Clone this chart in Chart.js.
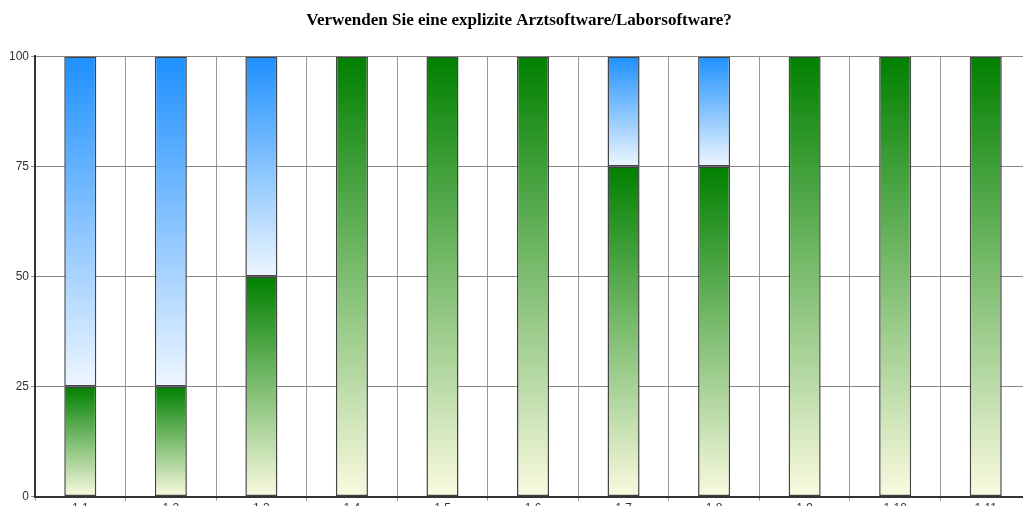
<!DOCTYPE html>
<html>
<head>
<meta charset="utf-8">
<script src="https://cdn.jsdelivr.net/npm/chart.js@4/dist/chart.umd.min.js"></script>
<style>
  html, body { margin: 0; padding: 0; background: #fff; overflow: hidden; }
  #wrap { width: 1023px; height: 506px; overflow: hidden; }
</style>
</head>
<body>
<div id="wrap"><canvas id="chartArzt" width="1031" height="517"></canvas></div>
<script>
// Umfrage: Verwenden Sie eine explizite Arztsoftware/Laborsoftware?
var kategorien = ['1.1', '1.2', '1.3', '1.4', '1.5', '1.6', '1.7', '1.8', '1.9', '1.10', '1.11'];
var werteGruen = [25, 25, 50, 100, 100, 100, 75, 75, 100, 100, 100];
var werteBlau = [75, 75, 50, 0, 0, 0, 25, 25, 0, 0, 0];
var yTicks = [0, 25, 50, 75, 100];

var serien = [werteGruen, werteBlau];

// Farbverlauf pro Balken (oben kräftig, unten hell)
function verlauf(topColor, bottomColor) {
    return function (ctx) {
        var chart = ctx.chart;
        if (!chart.chartArea || !chart.scales.y) return topColor;
        var i = ctx.dataIndex, d = ctx.datasetIndex;
        var basis = 0;
        for (var k = 0; k < d; k++) basis += serien[k][i];
        var oben = basis + serien[d][i];
        var y = chart.scales.y;
        var y0 = y.getPixelForValue(basis), y1 = y.getPixelForValue(oben);
        if (Math.abs(y0 - y1) < 1) return topColor;
        var g = chart.ctx.createLinearGradient(0, y1, 0, y0);
        g.addColorStop(0, topColor);
        g.addColorStop(1, bottomColor);
        return g;
    };
}

// kein Rahmen fuer leere Balken
function rahmen(ctx) {
    return serien[ctx.datasetIndex][ctx.dataIndex] ? 1.5 : 0;
}

var CHARTARZT = document.getElementById('chartArzt');

var chartArzt = new Chart(CHARTARZT, {
    type: 'bar',
    data: {
        labels: kategorien,
        datasets: [{
            label: 'Ja',
            data: werteGruen,
            backgroundColor: verlauf('#008000', '#fafae0'),
            borderColor: '#444',
            borderWidth: rahmen,
            borderSkipped: false
        }, {
            label: 'Nein',
            data: werteBlau,
            backgroundColor: verlauf('#1e90ff', '#eef6ff'),
            borderColor: '#444',
            borderWidth: rahmen,
            borderSkipped: false
        }]
    },
    options: {
        responsive: false,
        animation: false,
        layout: { padding: { left: 7, right: 0, top: 0, bottom: 0 } },
        plugins: {
            legend: { display: false },
            tooltip: { enabled: false },
            title: {
                display: true,
                text: 'Verwenden Sie eine explizite Arztsoftware/Laborsoftware?',
                color: '#000',
                font: { family: '"Liberation Serif", "Times New Roman", serif', size: 17, weight: 'bold' },
                padding: { top: 10, bottom: 26 }
            }
        },
        datasets: {
            bar: { categoryPercentage: 1, barPercentage: 0.354 }
        },
        scales: {
            x: {
                stacked: true,
                grid: { color: '#999', lineWidth: 1, offset: true, tickLength: 4 },
                border: { color: '#333', width: 2 },
                ticks: { color: '#333', padding: 1, font: { family: '"Liberation Sans", Arial, sans-serif', size: 12 } }
            },
            y: {
                stacked: true,
                min: 0,
                max: 100,
                afterBuildTicks: function (s) { s.ticks = yTicks.map(function (v) { return { value: v }; }); },
                grid: { color: '#888', lineWidth: 1, tickLength: 4 },
                border: { color: '#333', width: 2 },
                ticks: { color: '#333', padding: 2, font: { family: '"Liberation Sans", Arial, sans-serif', size: 12 } }
            }
        }
    }
});
</script>
</body>
</html>
